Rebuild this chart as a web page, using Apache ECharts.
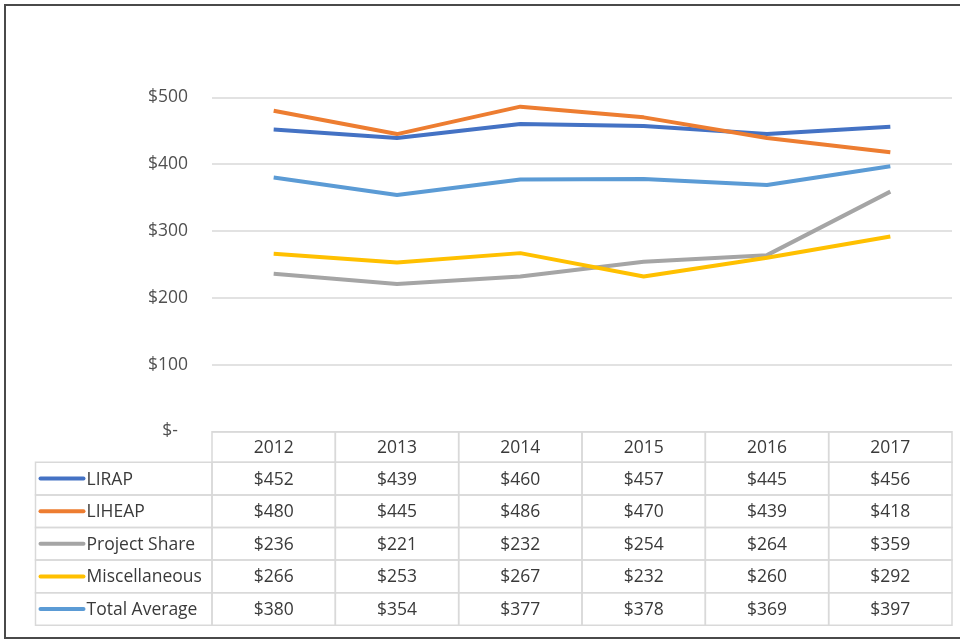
<!DOCTYPE html>
<html>
<head>
<meta charset="utf-8">
<script src="https://cdn.jsdelivr.net/npm/echarts@6/dist/echarts.min.js"></script>
<style>html,body{margin:0;padding:0;background:#fff}#c{width:960px;height:641px}</style>
</head>
<body>
<div id="c"></div>
<script>
const years = ['2012', '2013', '2014', '2015', '2016', '2017'];
const seriesNames = ['LIRAP', 'LIHEAP', 'Project Share', 'Miscellaneous', 'Total Average'];
const lirap = [452, 439, 460, 457, 445, 456];
const liheap = [480, 445, 486, 470, 439, 418];
const projectShare = [236, 221, 232, 254, 264, 359];
const miscellaneous = [266, 253, 267, 232, 260, 292];
const totalAverage = [380, 354, 377, 378, 369, 397];
const yMin = 0, yMax = 500, yInterval = 100;

const allValues = [lirap, liheap, projectShare, miscellaneous, totalAverage];
const colors = ['#4472C4', '#ED7D31', '#A5A5A5', '#FFC000', '#5B9BD5'];
const FONT = 'Open Sans';
const FS = 17.5;
const HEADER_H = 30.6, ROW_H = 32.6, LEGEND_LEFT = 35.5;
const BORDER = '#D9D9D9', TEXT = '#3a3a3a';

const tableData = [];
years.forEach((y, c) => tableData.push([c, -1, 0]));
seriesNames.forEach((n, r) => {
  tableData.push([0, r, 2]);
  years.forEach((y, c) => tableData.push([c, r, 1]));
});

function renderItem(params, api) {
  const c = api.value(0), r = api.value(1), kind = api.value(2);
  const base = api.coord([0, 0]);
  const w = api.size([1, 0])[0];
  const y0 = base[1];
  const top = r < 0 ? y0 : y0 + HEADER_H + r * ROW_H;
  const h = r < 0 ? HEADER_H : ROW_H;
  const cy = top + h / 2;
  const txtStyle = (x, align, t) => ({ x: x, y: cy + 1, text: t, fill: TEXT, font: FS + 'px "' + FONT + '"', align: align, verticalAlign: 'middle' });
  if (kind === 2) {
    const x1 = base[0] - w / 2;
    return { type: 'group', children: [
      { type: 'rect', shape: { x: LEGEND_LEFT, y: top, width: x1 - LEGEND_LEFT, height: h }, style: { fill: 'none', stroke: BORDER, lineWidth: 1.5 } },
      { type: 'line', shape: { x1: LEGEND_LEFT + 5, y1: cy, x2: LEGEND_LEFT + 48, y2: cy }, style: { stroke: colors[r], lineWidth: 4, lineCap: 'round' } },
      { type: 'text', style: txtStyle(LEGEND_LEFT + 51, 'left', seriesNames[r]) }
    ] };
  }
  const cx = api.coord([c, 0])[0];
  const label = kind === 0 ? years[c] : '$' + allValues[r][c];
  return { type: 'group', children: [
    { type: 'rect', shape: { x: cx - w / 2, y: top, width: w, height: h }, style: { fill: 'none', stroke: BORDER, lineWidth: 1.5 } },
    { type: 'text', style: txtStyle(cx, 'center', label) }
  ] };
}

const chart = echarts.init(document.getElementById('c'), null, { renderer: 'canvas' });
const lineSeries = seriesNames.map((n, i) => ({
  name: n, type: 'line', data: allValues[i], symbol: 'none', smooth: false,
  lineStyle: { color: colors[i], width: 4 }, itemStyle: { color: colors[i] }, z: 3
}));
chart.setOption({
  animation: false,
  backgroundColor: '#fff',
  textStyle: { fontFamily: FONT },
  grid: { left: 212, right: 8, top: 97.3, bottom: 209.3, containLabel: false },
  xAxis: {
    type: 'category', data: years, boundaryGap: true,
    axisLine: { show: false }, axisTick: { show: false }, axisLabel: { show: false }, splitLine: { show: false }
  },
  yAxis: {
    type: 'value', min: yMin, max: yMax, interval: yInterval,
    axisLine: { show: false }, axisTick: { show: false },
    splitLine: { lineStyle: { color: '#D9D9D9', width: 1.5 } },
    axisLabel: {
      margin: 24, color: '#505050', fontSize: FS, fontFamily: FONT,
      formatter: v => v === 0 ? '{z|$-}' : '$' + v,
      rich: { z: { padding: [0, 10, 2, 0], color: '#505050', fontSize: FS, fontFamily: FONT } }
    }
  },
  series: lineSeries.concat([{
    type: 'custom', renderItem: renderItem, data: tableData, clip: false, silent: true,
    encode: { x: 0, y: 1 }, z: 1
  }]),
  graphic: [{
    type: 'rect', shape: { x: 5, y: 5, width: 970, height: 633 },
    style: { fill: 'none', stroke: '#4a4a4a', lineWidth: 2 }, silent: true, z: 10
  }]
});
</script>
</body>
</html>
